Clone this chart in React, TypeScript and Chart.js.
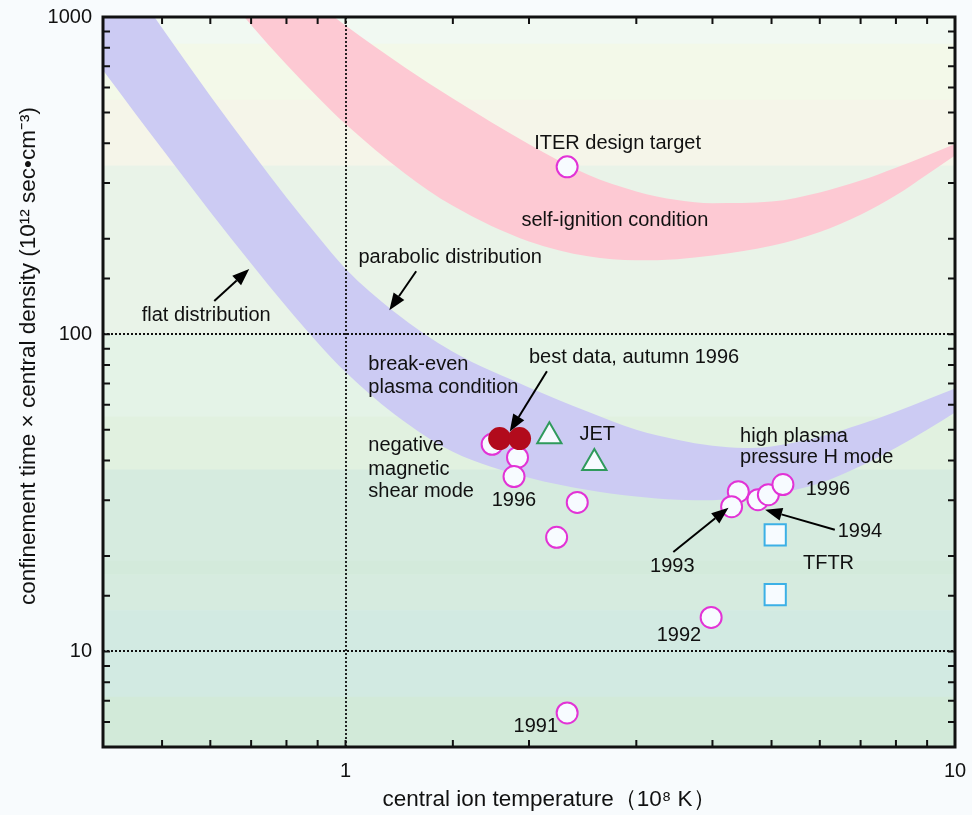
import React, { useEffect, useRef } from 'react';
import { Chart, registerables } from 'chart.js';

Chart.register(...registerables);

// ---- break-even band (blue) ----
const breakEvenT = [0.4, 0.45, 0.5, 0.6, 0.7, 0.8, 0.9, 1, 1.2, 1.5, 2, 2.5, 3, 3.5, 4, 4.5, 5, 6, 7, 8, 9, 10];
const breakEvenUpper = [1726, 1241, 923, 564, 378, 270, 204, 161, 118, 88, 68, 57, 50, 46.5, 44.5, 43.8, 44.3, 47.5, 52, 57, 62.3, 67.5];
const breakEvenLower = [679, 502, 384, 243, 167, 122, 94, 76, 56.2, 42.6, 35.3, 32.3, 30.8, 30.1, 30.0, 30.5, 31.3, 33.9, 38.4, 43.9, 50.0, 56.7];

// ---- self-ignition band (pink) ----
const ignitionT = [0.6, 0.7, 0.8, 0.9, 1, 1.25, 1.5, 2, 2.5, 3, 3.5, 4, 5, 6, 7, 8, 9, 10];
const ignitionUpper = [2399, 1734, 1346, 1102, 940, 695, 553, 397, 318, 282, 265, 259, 262, 280, 305, 335, 366, 398];
const ignitionLower = [1346, 944, 708, 560, 460, 322, 254, 196, 176, 171, 172.5, 177, 190, 210, 238, 274, 319, 366];

// ---- experimental points ----
const jt60T = [1.74, 1.915, 1.89, 2.4, 2.22, 4.41, 4.3, 4.75, 4.94, 5.22, 3.98, 2.31];
const jt60N = [45.0, 40.9, 35.6, 29.5, 22.9, 31.9, 28.6, 30.1, 31.2, 33.6, 12.8, 6.4];
const bestT = [1.79, 1.93];
const bestN = [46.9, 46.9];
const jetT = [2.16, 2.56];
const jetN = [47.7, 39.3];
const tftrT = [5.07, 5.07];
const tftrN = [23.3, 15.1];
const iterT = [2.31];
const iterN = [337];

// ---- axes ----
const xTickLabels = [1, 10];
const yTickLabels = [10, 100, 1000];
const xMajorGrid = [1];
const yMajorGrid = [10, 100];
const xTitle = 'central ion temperature（10⁸ K）';
const yTitle = 'confinement time × central density (10¹² sec•cm⁻³)';

// ---- background bands ----
const bgLevels = [1000, 824, 548, 340, 100, 55, 37.5, 19.4, 17.5, 13.5, 7.2, 5];
const bgColors = ['#f1f9f2', '#f3f9e9', '#f5f5e9', '#e9f3e8', '#e4f3e7', '#e1f1e0', '#d6ebdf', '#d3eadb', '#d6ebdf', '#d2eae2', '#d2ead9'];

// ---- annotations ----
const noteText = ['ITER design target', 'self-ignition condition', 'parabolic distribution', 'flat distribution', 'break-even', 'plasma condition', 'best data, autumn 1996', 'negative', 'magnetic', 'shear mode', '1996', 'JET', 'high plasma', 'pressure H mode', '1996', '1994', '1993', 'TFTR', '1992', '1991'];
const noteT = [2.04, 1.944, 1.05, 0.463, 1.09, 1.09, 2.0, 1.09, 1.09, 1.09, 1.737, 2.42, 4.44, 4.44, 5.69, 6.42, 3.16, 5.63, 3.24, 1.887];
const noteN = [398, 229, 174, 114.8, 80.4, 68.0, 84.6, 44.6, 37.5, 31.9, 29.9, 48.3, 47.6, 40.9, 32.4, 23.9, 18.6, 18.9, 11.2, 5.82];

const arrowFromT = [0.609, 1.306, 2.14, 3.45, 6.35];
const arrowFromN = [127.3, 158, 76.4, 20.6, 24.2];
const arrowToT = [0.695, 1.18, 1.86, 4.25, 4.88];
const arrowToN = [160.5, 119, 49.4, 28.4, 28.0];

const FONT = '"Liberation Sans", Arial, Helvetica, sans-serif';
const TEXT = '#111111';

const pts = (xs: number[], ys: number[]) => xs.map((x, i) => ({ x, y: ys[i] }));
const near = (v: number, list: number[]) => list.some((t) => Math.abs(v - t) / t < 1e-6);

const decor = {
  id: 'decor',
  beforeDraw(chart: any) {
    const { ctx, chartArea: a, scales } = chart;
    const y = scales.y;
    ctx.save();
    ctx.fillStyle = '#f8fbfd';
    ctx.fillRect(0, 0, chart.width, chart.height);
    for (let i = 0; i < bgColors.length; i++) {
      const y0 = y.getPixelForValue(bgLevels[i]);
      const y1 = y.getPixelForValue(bgLevels[i + 1]);
      ctx.fillStyle = bgColors[i];
      ctx.fillRect(a.left, y0, a.right - a.left, y1 - y0 + 0.5);
    }
    ctx.restore();
  },
  afterDatasetsDraw(chart: any) {
    const { ctx, chartArea: a, scales } = chart;
    const { x, y } = scales;
    ctx.save();
    // dotted grid at major decades
    ctx.strokeStyle = '#111';
    ctx.lineWidth = 1.8;
    ctx.setLineDash([2, 2]);
    xMajorGrid.forEach((v) => {
      const px = Math.round(x.getPixelForValue(v));
      ctx.beginPath();
      ctx.moveTo(px, a.top);
      ctx.lineTo(px, a.bottom);
      ctx.stroke();
    });
    yMajorGrid.forEach((v) => {
      const py = Math.round(y.getPixelForValue(v));
      ctx.beginPath();
      ctx.moveTo(a.left, py);
      ctx.lineTo(a.right, py);
      ctx.stroke();
    });
    ctx.setLineDash([]);
    // inward ticks on all sides
    ctx.strokeStyle = '#111';
    ctx.lineWidth = 2;
    const tl = 7;
    x.ticks.forEach((t: any) => {
      const px = x.getPixelForValue(t.value);
      if (px <= a.left + 2 || px >= a.right - 2) return;
      ctx.beginPath();
      ctx.moveTo(px, a.bottom);
      ctx.lineTo(px, a.bottom - tl);
      ctx.moveTo(px, a.top);
      ctx.lineTo(px, a.top + tl);
      ctx.stroke();
    });
    y.ticks.forEach((t: any) => {
      const py = y.getPixelForValue(t.value);
      if (py <= a.top + 2 || py >= a.bottom - 2) return;
      ctx.beginPath();
      ctx.moveTo(a.left, py);
      ctx.lineTo(a.left + tl, py);
      ctx.moveTo(a.right, py);
      ctx.lineTo(a.right - tl, py);
      ctx.stroke();
    });
    // frame
    ctx.lineWidth = 3;
    ctx.strokeStyle = '#111';
    ctx.strokeRect(a.left, a.top, a.right - a.left, a.bottom - a.top);
    ctx.restore();
  },
  afterDraw(chart: any) {
    const { ctx, scales, chartArea: a } = chart;
    const { x, y } = scales;
    ctx.save();
    // arrows
    ctx.strokeStyle = '#000';
    ctx.fillStyle = '#000';
    ctx.lineWidth = 2;
    for (let i = 0; i < arrowFromT.length; i++) {
      const x0 = x.getPixelForValue(arrowFromT[i]);
      const y0 = y.getPixelForValue(arrowFromN[i]);
      const x1 = x.getPixelForValue(arrowToT[i]);
      const y1 = y.getPixelForValue(arrowToN[i]);
      const ang = Math.atan2(y1 - y0, x1 - x0);
      const hl = 17;
      const hw = 6.5;
      const bx = x1 - Math.cos(ang) * hl;
      const by = y1 - Math.sin(ang) * hl;
      ctx.beginPath();
      ctx.moveTo(x0, y0);
      ctx.lineTo(bx, by);
      ctx.stroke();
      ctx.beginPath();
      ctx.moveTo(x1, y1);
      ctx.lineTo(bx + Math.sin(ang) * hw, by - Math.cos(ang) * hw);
      ctx.lineTo(bx - Math.sin(ang) * hw, by + Math.cos(ang) * hw);
      ctx.closePath();
      ctx.fill();
    }
    // labels
    ctx.fillStyle = TEXT;
    ctx.font = `20px ${FONT}`;
    ctx.textAlign = 'left';
    ctx.textBaseline = 'middle';
    noteText.forEach((t, i) => {
      ctx.fillText(t, x.getPixelForValue(noteT[i]), y.getPixelForValue(noteN[i]));
    });
    // axis titles
    ctx.font = `22.5px ${FONT}`;
    ctx.textAlign = 'center';
    ctx.fillText(xTitle, (a.left + a.right) / 2 + 20, chart.height - 15);
    ctx.save();
    ctx.translate(29, (a.top + a.bottom) / 2 - 26);
    ctx.rotate(-Math.PI / 2);
    ctx.fillText(yTitle, 0, 0);
    ctx.restore();
    ctx.restore();
  },
};

export default function App() {
  const ref = useRef<HTMLCanvasElement | null>(null);
  useEffect(() => {
    document.body.style.margin = '0';
    document.body.style.background = '#f8fbfd';
    const canvas = ref.current;
    if (!canvas) return;
    const circleStyle = {
      pointStyle: 'circle',
      pointRadius: 10.5,
      borderColor: '#e233d6',
      backgroundColor: '#f7fbff',
      borderWidth: 2,
    };
    const band = { borderWidth: 0, pointRadius: 0, cubicInterpolationMode: 'monotone' };
    const chart = new Chart(canvas, {
      type: 'line',
      data: {
        datasets: [
          { label: 'self-ignition upper', data: pts(ignitionT, ignitionUpper), ...band, backgroundColor: '#fdc9d3', fill: '+1', order: 20 },
          { label: 'self-ignition lower', data: pts(ignitionT, ignitionLower), ...band, fill: false, order: 21 },
          { label: 'break-even upper', data: pts(breakEvenT, breakEvenUpper), ...band, backgroundColor: '#cccbf3', fill: '+1', order: 10 },
          { label: 'break-even lower', data: pts(breakEvenT, breakEvenLower), ...band, fill: false, order: 11 },
          { type: 'scatter', label: 'JT-60U', data: pts(jt60T, jt60N), showLine: false, ...circleStyle, order: 3 },
          { type: 'scatter', label: 'ITER', data: pts(iterT, iterN), showLine: false, ...circleStyle, order: 3 },
          {
            type: 'scatter', label: 'best data', data: pts(bestT, bestN), showLine: false,
            pointStyle: 'circle', pointRadius: 11.5, borderWidth: 0, borderColor: '#b20b1c', backgroundColor: '#b20b1c', order: 1,
          },
          {
            type: 'scatter', label: 'JET', data: pts(jetT, jetN), showLine: false,
            pointStyle: 'triangle', pointRadius: 14, borderWidth: 2, borderColor: '#2f9a5c', backgroundColor: '#f7fbff', order: 2,
          },
          {
            type: 'scatter', label: 'TFTR', data: pts(tftrT, tftrN), showLine: false,
            pointStyle: 'rect', pointRadius: 15, borderWidth: 2, borderColor: '#3cb0e6', backgroundColor: '#f7fbff', order: 2,
          },
        ],
      },
      options: {
        animation: false,
        responsive: false,
        devicePixelRatio: 1,
        layout: { padding: { top: 17, right: 15, left: 0, bottom: 0 } },
        plugins: { legend: { display: false }, tooltip: { enabled: false } },
        events: [],
        scales: {
          x: {
            type: 'logarithmic',
            min: 0.4,
            max: 10,
            grid: { display: false, drawTicks: false },
            border: { display: false },
            ticks: {
              autoSkip: false,
              maxRotation: 0,
              padding: 12,
              color: TEXT,
              font: { family: FONT, size: 20 },
              callback: (v: any) => (near(Number(v), xTickLabels) ? String(Number(v)) : ''),
            },
            title: { display: false },
            afterFit: (s: any) => {
              s.height = 68;
              s.paddingLeft = 0;
              s.paddingRight = 0;
            },
          },
          y: {
            type: 'logarithmic',
            min: 5,
            max: 1000,
            grid: { display: false, drawTicks: false },
            border: { display: false },
            ticks: {
              autoSkip: false,
              padding: 11,
              color: TEXT,
              font: { family: FONT, size: 20 },
              callback: (v: any) => (near(Number(v), yTickLabels) ? String(Number(v)) : ''),
            },
            title: { display: false },
            afterFit: (s: any) => {
              s.width = 103;
              s.paddingTop = 0;
              s.paddingBottom = 0;
            },
          },
        },
      },
      plugins: [decor],
    } as any);
    return () => chart.destroy();
  }, []);
  return (
    <div style={{ width: 972, height: 815 }}>
      <canvas ref={ref} width={972} height={815} style={{ display: 'block' }} />
    </div>
  );
}
